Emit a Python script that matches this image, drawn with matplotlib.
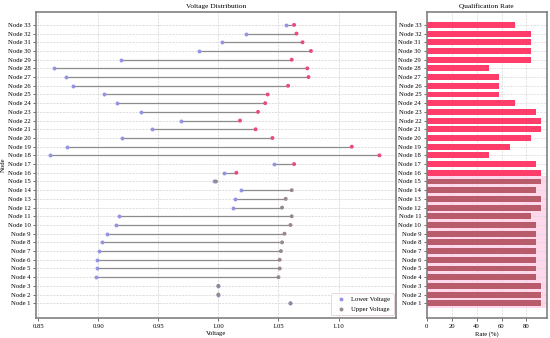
import numpy as np
import matplotlib
matplotlib.use("Agg")
import matplotlib.pyplot as plt
from matplotlib.lines import Line2D

# ---------------------------------
# Data
# ---------------------------------

nodes = [f"Node {i}" for i in range(1, 34)]

lower_v = [
    1.060, 1.000, 1.000, 0.898, 0.899, 0.899, 0.901, 0.903, 0.907, 0.915,
    0.917, 1.012, 1.014, 1.019, 0.996, 1.005, 1.046, 0.860, 0.874, 0.920,
    0.945, 0.969, 0.936, 0.916, 0.905, 0.879, 0.873, 0.863, 0.919, 0.984,
    1.003, 1.023, 1.056
]

upper_v = [
    1.060, 1.000, 1.000, 1.050, 1.051, 1.051, 1.052, 1.053, 1.055, 1.060,
    1.061, 1.053, 1.056, 1.061, 0.998, 1.015, 1.063, 1.134, 1.111, 1.045,
    1.031, 1.018, 1.033, 1.039, 1.041, 1.058, 1.075, 1.074, 1.061, 1.077,
    1.070, 1.065, 1.063
]

rate = [
    91.67, 91.67, 91.67, 87.5, 87.5, 87.5, 87.5, 87.5, 87.5, 87.5,
    83.33, 91.67, 91.67, 87.5, 91.67, 91.67, 87.5, 50.0, 66.67, 83.33,
    91.67, 91.67, 87.5, 70.83, 58.33, 58.33, 58.33, 50.0, 83.33, 83.33,
    83.33, 83.33, 70.83
]

# ---------------------------------
# Style
# ---------------------------------

plt.rcParams["font.family"] = ["Liberation Serif", "DejaVu Serif"]
plt.rcParams["font.size"] = 4.8

spine_color = "#808080"
line_gray = "#8c8c8c"
lower_color = "#9494e2"
upper_color = "#ea4a80"
upper_shaded = "#978890"
bar_color = "#ff3d6b"
bar_shaded = "#b85c6c"
band_color = "#ffd8ec"

n_shaded = 15  # nodes 1..15 appear in the tinted band

y = np.arange(len(nodes))

fig = plt.figure(figsize=(5.5, 3.38), dpi=100)
ax1 = fig.add_axes([0.0655, 0.059, 0.655, 0.906])
ax2 = fig.add_axes([0.776, 0.059, 0.218, 0.906])

# ---------------------------------
# Left: voltage range per node
# ---------------------------------

ax1.hlines(y, lower_v, upper_v, color=line_gray, linewidth=0.9, zorder=2)

ax1.scatter(lower_v, y, s=8, color=lower_color, zorder=3,
            linewidths=0)

up_cols = [upper_shaded if i < n_shaded else upper_color
           for i in range(len(nodes))]
ax1.scatter(upper_v, y, s=8, color=up_cols, zorder=4, linewidths=0)

ax1.set_yticks(y)
ax1.set_yticklabels(nodes)
ax1.set_xticks([0.85, 0.90, 0.95, 1.00, 1.05, 1.10])
ax1.set_xlim(0.8483, 1.148)
ax1.set_ylim(-1.7, len(nodes) - 0.5 + 1.0)
ax1.set_xlabel("Voltage", labelpad=2)
ax1.set_ylabel("Node", labelpad=1)
ax1.set_title("Voltage Distribution", fontsize=5.3, pad=2.5)
ax1.grid(True, linestyle="--", linewidth=0.45, color="#cfcfcf")
ax1.set_axisbelow(True)

handles = [
    Line2D([], [], marker="o", linestyle="none", markersize=2.8,
           markeredgewidth=0, color=lower_color, label="Lower Voltage"),
    Line2D([], [], marker="o", linestyle="none", markersize=2.8,
           markeredgewidth=0, color=upper_shaded, label="Upper Voltage"),
]
leg = ax1.legend(handles=handles, loc="lower right", fontsize=4.8,
                 frameon=True, borderpad=0.5, handletextpad=0.6,
                 labelspacing=0.6, borderaxespad=0.4)
leg.get_frame().set_edgecolor("#e3c6cc")
leg.get_frame().set_linewidth(0.6)

# ---------------------------------
# Right: qualification rate per node
# ---------------------------------

ax2.axhspan(-0.5, n_shaded - 0.4, color=band_color, zorder=0.5,
            linewidth=0)

bar_cols = [bar_shaded if i < n_shaded else bar_color
            for i in range(len(nodes))]
ax2.barh(y, rate, height=0.68, color=bar_cols, zorder=3)

ax2.set_yticks(y)
ax2.set_yticklabels(nodes)
ax2.set_xticks([0, 20, 40, 60, 80])
ax2.set_xlim(0, 96.3)
ax2.set_ylim(ax1.get_ylim())
ax2.set_xlabel("Rate (%)", labelpad=2)
ax2.set_title("Qualification Rate", fontsize=5.3, pad=2.5)
ax2.grid(True, linestyle="--", linewidth=0.45, color="#d5d5d5", zorder=1)
ax2.set_axisbelow(True)

for ax in (ax1, ax2):
    for sp in ax.spines.values():
        sp.set_color(spine_color)
        sp.set_linewidth(1.2)
    ax.tick_params(axis="both", labelsize=4.8, length=2.5, width=0.6,
                   pad=1.5, color="#555555")

fig.savefig("out.png", dpi=100)
plt.close(fig)
